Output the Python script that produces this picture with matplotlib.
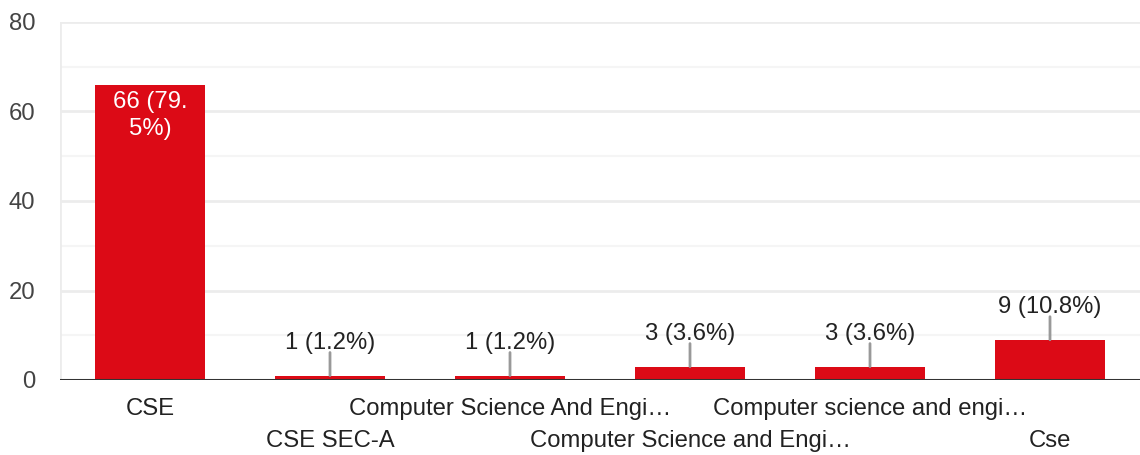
import matplotlib
matplotlib.use("Agg")
import matplotlib.pyplot as plt

categories = ["CSE", "CSE SEC-A", "Computer Science And Engi\u2026",
              "Computer Science and Engi\u2026", "Computer science and engi\u2026", "Cse"]
counts = [66, 1, 1, 3, 3, 9]
labels = ["66 (79.\n5%)", "1 (1.2%)", "1 (1.2%)", "3 (3.6%)", "3 (3.6%)", "9 (10.8%)"]
yticks = [0, 20, 40, 60, 80]

plt.rcParams['font.family'] = ['Liberation Sans', 'DejaVu Sans']
FS = 17.2

W, H = 1140, 455
fig = plt.figure(figsize=(W / 100, H / 100), dpi=100)
ax = fig.add_axes([60 / W, (H - 380) / H, 1080 / W, 358 / H])

bar_color = "#DC0A16"
x = list(range(len(categories)))
ax.bar(x, counts, width=0.61, color=bar_color, zorder=3)

ax.set_xlim(-0.5, len(categories) - 0.5)
ax.set_ylim(0, 80)

# grid
for v in range(10, 80, 20):
    ax.axhline(v, color="#f5f5f5", lw=1.5, zorder=1)
for v in yticks[1:]:
    ax.axhline(v, color="#ececec", lw=2, zorder=1)
ax.axvline(-0.5, color="#ececec", lw=2, zorder=1)
ax.axhline(0, color="#333333", lw=2.2, zorder=4)

for s in ax.spines.values():
    s.set_visible(False)
ax.set_yticks(yticks)
ax.set_yticklabels([str(v) for v in yticks], fontsize=FS, color="#444444")
ax.tick_params(axis='y', length=0, pad=18)
ax.set_xticks([])

# category labels in two staggered rows
for i, c in enumerate(categories):
    off = -29 if i % 2 == 0 else -61
    ax.annotate(c, xy=(i, 0), xycoords=('data', 'axes fraction'),
                xytext=(0, off), textcoords='offset pixels',
                ha='center', va='center', fontsize=FS, color="#222222")

# data labels
for i, (v, lab) in enumerate(zip(counts, labels)):
    if v > 40:
        ax.annotate(lab, xy=(i, v), xytext=(0, -6), textcoords='offset pixels',
                    ha='center', va='top', fontsize=FS, color="white",
                    linespacing=1.3, zorder=5)
    else:
        ax.annotate("", xy=(i, v), xytext=(0, 23), textcoords='offset pixels',
                    arrowprops=dict(arrowstyle='-', color="#999999", lw=2,
                                    shrinkA=0, shrinkB=0), zorder=5)
        ax.annotate(lab, xy=(i, v), xytext=(0, 33), textcoords='offset pixels',
                    ha='center', va='center', fontsize=FS, color="#222222", zorder=5)

fig.savefig("out.png", dpi=100)
